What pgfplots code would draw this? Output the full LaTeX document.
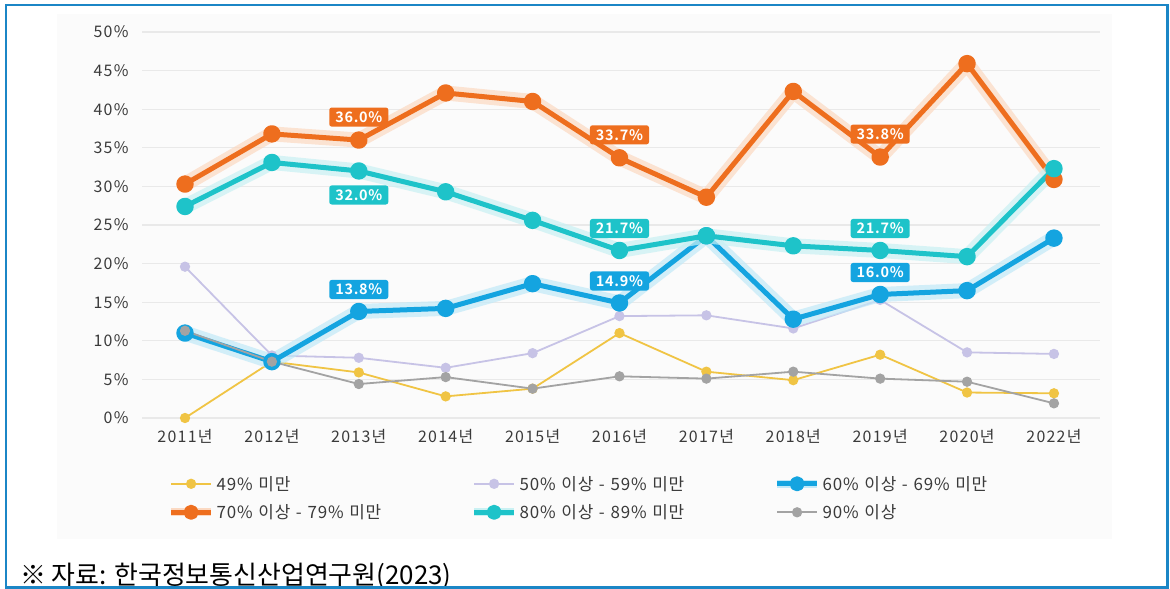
\documentclass[border=0pt]{standalone}
\usepackage{fontspec}
\setmainfont{Noto Sans CJK KR}
\newfontfamily\tickfont[LetterSpace=8]{Noto Sans CJK KR}
\newfontfamily\legfont[LetterSpace=5]{Noto Sans CJK KR}
\newfontfamily\lblfont[LetterSpace=5]{Noto Sans CJK KR Bold}
\usepackage{pgfplots}
\usepackage{pgfplotstable}
\pgfplotsset{compat=1.18}
\definecolor{cOr}{HTML}{EE6E1E}
\definecolor{cTe}{HTML}{1EC3C9}
\definecolor{cBl}{HTML}{14A4E0}
\definecolor{cLa}{HTML}{C7C3E6}
\definecolor{cYe}{HTML}{F0C444}
\definecolor{cGr}{HTML}{A3A3A3}
\definecolor{hOr}{HTML}{FBD9C2}
\definecolor{hTe}{HTML}{C9F1F3}
\definecolor{hBl}{HTML}{C2E9F8}
\definecolor{cBorder}{HTML}{1B86C6}
\definecolor{cGrid}{HTML}{E9E9E9}
\definecolor{cTxt}{HTML}{3A3A3A}
\definecolor{cBg}{HTML}{FBFBFB}

\pgfplotsset{
  haloleg/.style={legend image code/.code={\draw[#1, line width=8bp] (0bp,0bp) -- (40bp,0bp); \draw[mark repeat=2, mark phase=2, mark size=5bp, ##1] plot coordinates {(0bp,0bp) (20bp,0bp) (40bp,0bp)};}},
  lbl/.style={draw=none, forget plot, nodes near coords, point meta=explicit symbolic,
    every node near coord/.style={fill=#1, text=white, rounded corners=2.5bp, inner xsep=6bp, inner ysep=4bp,
      font=\lblfont\fontsize{14.5}{16}\selectfont, anchor=center}},
}

\pgfplotstableread{
x  a    b    c    d    e    f
0  0.0  19.6 11.0 30.3 27.4 11.3
1  7.3  8.1  7.3  36.8 33.1 7.3
2  5.9  7.8  13.8 36.0 32.0 4.4
3  2.8  6.5  14.2 42.1 29.3 5.3
4  3.8  8.4  17.4 41.0 25.6 3.8
5  11.0 13.2 14.9 33.7 21.7 5.4
6  6.0  13.3 23.6 28.6 23.6 5.1
7  4.9  11.6 12.8 42.3 22.3 6.0
8  8.2  15.3 16.0 33.8 21.7 5.1
9  3.3  8.5  16.5 45.9 20.9 4.7
10 3.2  8.3  23.3 30.9 32.3 1.9
}\datatable

\begin{document}
\begin{tikzpicture}
\path[use as bounding box] (0bp,0bp) rectangle (1170bp,589bp);
\fill[cBg] (57bp,50bp) rectangle (1112bp,575bp);
\begin{axis}[
  at={(142bp,171bp)}, anchor=south west,
  scale only axis, width=958bp, height=386bp,
  xmin=-0.495, xmax=10.53, ymin=0, ymax=50,
  axis line style={draw=none},
  major tick length=0pt,
  ytick={0,5,...,50},
  yticklabels={0\%,5\%,10\%,15\%,20\%,25\%,30\%,35\%,40\%,45\%,50\%},
  xtick={0,...,10},
  xticklabels={2011년,2012년,2013년,2014년,2015년,2016년,2017년,2018년,2019년,2020년,2022년},
  ymajorgrids, grid style={cGrid, line width=1.2bp},
  ticklabel style={font=\tickfont\fontsize{16}{19}\selectfont, text=cTxt},
  yticklabel style={xshift=-10bp},
  xticklabel style={yshift=-8bp},
  clip=false,
  legend columns=3,
  legend cell align=left,
  legend style={draw=none, fill=none, at={(0.026,-0.146)}, anchor=north west,
    inner sep=0pt, row sep=10bp,
    nodes={inner sep=1.5bp, text width=252bp, font=\legfont\fontsize{17}{19}\selectfont, text=cTxt}},
  legend image code/.code={\draw[mark repeat=2, mark phase=2, #1] plot coordinates {(0bp,0bp) (20bp,0bp) (40bp,0bp)};},
]
\addplot[cYe, line width=1.8bp, mark=*, mark size=4.2bp, mark options={fill=cYe, draw=none}] table[x=x,y=a] {\datatable};
\addlegendentry{49\% 미만}
\addplot[cLa, line width=1.8bp, mark=*, mark size=4.2bp, mark options={fill=cLa, draw=none}] table[x=x,y=b] {\datatable};
\addlegendentry{50\% 이상 - 59\% 미만}
\addplot[forget plot, hBl, line width=15bp, opacity=0.7, line join=round, line cap=round] table[x=x,y=c] {\datatable};
\addplot[cBl, line width=5bp, line join=round, mark=*, mark size=6.2bp, mark options={fill=cBl, draw=none}, haloleg=hBl] table[x=x,y=c] {\datatable};
\addlegendentry{60\% 이상 - 69\% 미만}
\addplot[forget plot, hOr, line width=15bp, opacity=0.7, line join=round, line cap=round] table[x=x,y=d] {\datatable};
\addplot[cOr, line width=5bp, line join=round, mark=*, mark size=6.2bp, mark options={fill=cOr, draw=none}, haloleg=hOr] table[x=x,y=d] {\datatable};
\addlegendentry{70\% 이상 - 79\% 미만}
\addplot[forget plot, hTe, line width=15bp, opacity=0.7, line join=round, line cap=round] table[x=x,y=e] {\datatable};
\addplot[cTe, line width=5bp, line join=round, mark=*, mark size=6.2bp, mark options={fill=cTe, draw=none}, haloleg=hTe] table[x=x,y=e] {\datatable};
\addlegendentry{80\% 이상 - 89\% 미만}
\addplot[cGr, line width=1.8bp, mark=*, mark size=4.2bp, mark options={fill=cGr, draw=none}] table[x=x,y=f] {\datatable};
\addlegendentry{90\% 이상}

\addplot[lbl=cOr, every node near coord/.append style={yshift=23bp}] coordinates {(2,36.0)[36.0\%] (5,33.7)[33.7\%] (8,33.8)[33.8\%]};
\addplot[lbl=cTe, every node near coord/.append style={yshift=-24bp}] coordinates {(2,32.0)[32.0\%]};
\addplot[lbl=cTe, every node near coord/.append style={yshift=22bp}] coordinates {(5,21.7)[21.7\%] (8,21.7)[21.7\%]};
\addplot[lbl=cBl, every node near coord/.append style={yshift=22bp}] coordinates {(2,13.8)[13.8\%] (5,14.9)[14.9\%] (8,16.0)[16.0\%]};
\end{axis}
\node[anchor=base west, inner sep=0pt, font=\fontsize{26}{28}\selectfont] at (20bp,5bp) {※ 자료: 한국정보통신산업연구원(2023)};
\draw[cBorder, line width=2.6bp] (6bp,1.3bp) rectangle (1167.5bp,584bp);
\end{tikzpicture}
\end{document}
